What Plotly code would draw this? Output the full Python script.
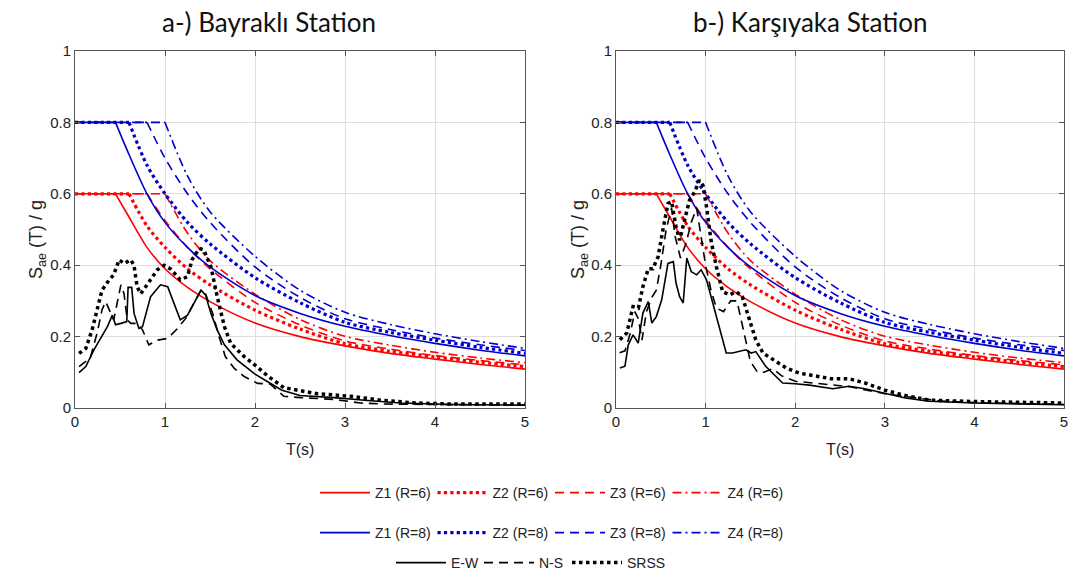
import plotly.graph_objects as go

# ---------------- data ----------------
# Design spectra (same in both panels)
z1_t = [0, 0.45, 0.6, 0.8, 1.0, 1.25, 1.5, 2.0, 2.5, 3.0, 3.5, 4.0, 4.5, 5.0]
z2_t = [0, 0.6, 0.8, 1.0, 1.25, 1.5, 2.0, 2.5, 3.0, 3.5, 4.0, 4.5, 5.0]
z3_t = [0, 0.8, 1.0, 1.25, 1.5, 2.0, 2.5, 3.0, 3.5, 4.0, 4.5, 5.0]
z4_t = [0, 1.0, 1.25, 1.5, 2.0, 2.5, 3.0, 3.5, 4.0, 4.5, 5.0]

z1_r6 = [0.6, 0.6, 0.535, 0.45, 0.39, 0.338, 0.298, 0.238, 0.2, 0.174, 0.153, 0.137, 0.122, 0.109]
z2_r6 = [0.6, 0.6, 0.51, 0.45, 0.39, 0.345, 0.274, 0.221, 0.18, 0.159, 0.143, 0.128, 0.116]
z3_r6 = [0.6, 0.6, 0.525, 0.45, 0.39, 0.296, 0.233, 0.188, 0.165, 0.147, 0.133, 0.121]
z4_r6 = [0.6, 0.6, 0.49, 0.413, 0.319, 0.248, 0.201, 0.176, 0.156, 0.14, 0.127]

z1_r8 = [0.8, 0.8, 0.71, 0.6, 0.52, 0.45, 0.395, 0.315, 0.265, 0.229, 0.203, 0.181, 0.162, 0.146]
z2_r8 = [0.8, 0.8, 0.68, 0.6, 0.52, 0.46, 0.365, 0.295, 0.24, 0.212, 0.19, 0.17, 0.153]
z3_r8 = [0.8, 0.8, 0.7, 0.6, 0.52, 0.395, 0.31, 0.25, 0.22, 0.196, 0.177, 0.161]
z4_r8 = [0.8, 0.8, 0.65, 0.55, 0.425, 0.33, 0.268, 0.234, 0.208, 0.186, 0.167]

# Bayrakli station records
bay_ew_t = [0.045, 0.12, 0.21, 0.30, 0.36, 0.415, 0.45, 0.51, 0.575, 0.59, 0.63, 0.656, 0.71,
            0.75, 0.84, 0.95, 1.03, 1.10, 1.17, 1.25, 1.34, 1.40, 1.45, 1.51, 1.58, 1.66, 1.80,
            2.0, 2.15, 2.3, 2.5, 2.88, 3.25, 3.62, 4.18, 5.0]
bay_ew_v = [0.099, 0.116, 0.163, 0.2, 0.228, 0.26, 0.233, 0.237, 0.242, 0.338, 0.338, 0.265, 0.223,
            0.228, 0.312, 0.345, 0.34, 0.293, 0.247, 0.26, 0.303, 0.33, 0.317, 0.265, 0.219, 0.177, 0.135,
            0.095, 0.072, 0.05, 0.035, 0.029, 0.021, 0.014, 0.01, 0.008]

bay_ns_t = [0.045, 0.17, 0.25, 0.30, 0.34, 0.38, 0.43, 0.51, 0.545, 0.58, 0.62, 0.69, 0.75, 0.82,
            0.915, 1.03, 1.14, 1.23, 1.32, 1.40, 1.45, 1.53, 1.60, 1.67, 1.77, 1.88, 2.03, 2.17,
            2.32, 2.51, 2.88, 3.17, 3.43, 3.8, 5.0]
bay_ns_v = [0.116, 0.14, 0.214, 0.275, 0.298, 0.275, 0.247, 0.345, 0.32, 0.247, 0.237, 0.237, 0.219, 0.177,
            0.19, 0.195, 0.223, 0.251, 0.293, 0.33, 0.32, 0.265, 0.2, 0.144, 0.111, 0.088, 0.069, 0.067,
            0.033, 0.029, 0.024, 0.014, 0.011, 0.01, 0.008]

bay_srss_t = [0.045, 0.12, 0.19, 0.25, 0.30, 0.38, 0.43, 0.49, 0.545, 0.62, 0.655, 0.69, 0.73, 0.80,
              0.915, 0.99, 1.06, 1.17, 1.25, 1.30, 1.38, 1.43, 1.51, 1.58, 1.66, 1.73, 1.88, 2.0,
              2.14, 2.32, 2.69, 3.06, 3.43, 3.8, 4.18, 5.0]
bay_srss_v = [0.153, 0.167, 0.219, 0.275, 0.33, 0.359, 0.373, 0.415, 0.405, 0.415, 0.4, 0.34, 0.32, 0.345,
              0.387, 0.4, 0.39, 0.359, 0.368, 0.415, 0.447, 0.443, 0.396, 0.312, 0.228, 0.181, 0.144, 0.12,
              0.09, 0.057, 0.04, 0.033, 0.021, 0.014, 0.011, 0.011]

# Karsiyaka station records
kar_ew_t = [0.044, 0.10, 0.137, 0.19, 0.248, 0.30, 0.36, 0.40, 0.45, 0.51, 0.58, 0.64, 0.67, 0.71,
            0.75, 0.79, 0.84, 0.90, 0.95, 1.01, 1.08, 1.16, 1.23, 1.30, 1.38, 1.45, 1.51, 1.56,
            1.67, 1.79, 1.86, 2.0, 2.16, 2.42, 2.6, 2.78, 3.0, 3.23, 3.49, 4.0, 5.0]
kar_ew_v = [0.112, 0.117, 0.177, 0.205, 0.182, 0.266, 0.298, 0.238, 0.256, 0.303, 0.405, 0.41, 0.35, 0.312,
            0.294, 0.42, 0.382, 0.373, 0.387, 0.359, 0.294, 0.219, 0.154, 0.154, 0.158, 0.163, 0.154, 0.158,
            0.117, 0.089, 0.07, 0.068, 0.064, 0.054, 0.061, 0.054, 0.041, 0.028, 0.019, 0.014, 0.009]

kar_ns_t = [0.04, 0.10, 0.16, 0.21, 0.25, 0.29, 0.34, 0.40, 0.45, 0.50, 0.56, 0.62, 0.66, 0.72, 0.78,
            0.84, 0.90, 0.95, 1.00, 1.06, 1.12, 1.20, 1.28, 1.35, 1.42, 1.50, 1.58, 1.65, 1.75, 1.85,
            2.0, 2.2, 2.4, 2.6, 2.8, 3.0, 3.3, 3.6, 4.0, 4.5, 5.0]
kar_ns_v = [0.155, 0.16, 0.21, 0.27, 0.25, 0.19, 0.27, 0.31, 0.33, 0.40, 0.50, 0.56, 0.48, 0.42, 0.46,
            0.52, 0.56, 0.48, 0.40, 0.33, 0.28, 0.27, 0.30, 0.30, 0.22, 0.13, 0.10, 0.10, 0.11, 0.09,
            0.075, 0.07, 0.065, 0.06, 0.05, 0.04, 0.03, 0.02, 0.015, 0.012, 0.01]

kar_srss_t = [0.044, 0.12, 0.19, 0.25, 0.30, 0.36, 0.41, 0.47, 0.53, 0.58, 0.62, 0.67, 0.71, 0.77,
              0.82, 0.88, 0.93, 0.97, 1.01, 1.06, 1.12, 1.19, 1.27, 1.34, 1.41, 1.49, 1.56, 1.64,
              1.75, 1.90, 2.04, 2.2, 2.4, 2.6, 2.78, 3.0, 3.23, 3.5, 4.0, 5.0]
kar_srss_v = [0.191, 0.21, 0.284, 0.28, 0.34, 0.39, 0.39, 0.424, 0.508, 0.573, 0.578, 0.508, 0.47, 0.53,
              0.582, 0.606, 0.638, 0.624, 0.564, 0.47, 0.396, 0.326, 0.317, 0.326, 0.312, 0.247, 0.191, 0.154,
              0.135, 0.112, 0.098, 0.09, 0.082, 0.082, 0.07, 0.05, 0.035, 0.022, 0.018, 0.014]

titles = ["a-) Bayraklı Station", "b-) Karşıyaka Station"]
x_ticks = [0, 1, 2, 3, 4, 5]
y_ticks = [0, 0.2, 0.4, 0.6, 0.8, 1.0]
y_ticklabels = ["0", "0.2", "0.4", "0.6", "0.8", "1"]

# ---------------- styling ----------------
W, H = 1076, 575
RED, BLUE, BLACK = "#ff0000", "#0000cc", "#000000"
design = [
    ("Z1 (R=6)", z1_t, z1_r6, RED, "solid", 1.6, "legend"),
    ("Z2 (R=6)", z2_t, z2_r6, RED, "dot", 3.2, "legend"),
    ("Z3 (R=6)", z3_t, z3_r6, RED, "9px,6px", 1.6, "legend"),
    ("Z4 (R=6)", z4_t, z4_r6, RED, "9px,4px,2px,4px", 1.6, "legend"),
    ("Z1 (R=8)", z1_t, z1_r8, BLUE, "solid", 1.6, "legend2"),
    ("Z2 (R=8)", z2_t, z2_r8, BLUE, "dot", 3.2, "legend2"),
    ("Z3 (R=8)", z3_t, z3_r8, BLUE, "9px,6px", 1.6, "legend2"),
    ("Z4 (R=8)", z4_t, z4_r8, BLUE, "9px,4px,2px,4px", 1.6, "legend2"),
]
records = [
    [("E-W", bay_ew_t, bay_ew_v, "solid", 1.6), ("N-S", bay_ns_t, bay_ns_v, "9px,6px", 1.6),
     ("SRSS", bay_srss_t, bay_srss_v, "dot", 3.5)],
    [("E-W", kar_ew_t, kar_ew_v, "solid", 1.6), ("N-S", kar_ns_t, kar_ns_v, "9px,6px", 1.6),
     ("SRSS", kar_srss_t, kar_srss_v, "dot", 3.5)],
]

fig = go.Figure()

axes = [("x", "y"), ("x2", "y2")]
for p, (xa, ya) in enumerate(axes):
    first = p == 0
    for name, tt, vv, col, dash, lw, lg in design:
        fig.add_trace(go.Scatter(x=tt[:2], y=vv[:2], mode="lines", xaxis=xa, yaxis=ya,
                                 line=dict(color=col, dash=dash, width=lw),
                                 showlegend=False, hoverinfo="skip"))
        fig.add_trace(go.Scatter(x=tt[1:], y=vv[1:], mode="lines", xaxis=xa, yaxis=ya, name=name,
                                 line=dict(color=col, dash=dash, width=lw, shape="spline", smoothing=0.8),
                                 showlegend=first, legend=lg))
    for name, tt, vv, dash, lw in records[p]:
        fig.add_trace(go.Scatter(x=tt, y=vv, mode="lines", xaxis=xa, yaxis=ya, name=name,
                                 line=dict(color=BLACK, dash=dash, width=lw),
                                 showlegend=first, legend="legend3"))

# empty spacer entry so the last legend label of row 3 is not clipped
fig.add_trace(go.Scatter(x=[None], y=[None], mode="lines", name=" ", hoverinfo="skip",
                         line=dict(color="rgba(0,0,0,0)", width=0), showlegend=True, legend="legend3"))

top_px, bot_px = 51, 408
dom_y = [1 - bot_px / H, 1 - top_px / H]
doms_x = [[75 / W, 525 / W], [616 / W, 1064 / W]]

axis_common = dict(showline=True, linecolor="#555555", linewidth=1, mirror="ticks",
                   ticks="inside", ticklen=5, tickcolor="#555555",
                   showgrid=True, gridcolor="#dedede", gridwidth=1, zeroline=False,
                   tickfont=dict(family="Liberation Sans, Arial", size=15, color="#222222"))

layout = dict(
    width=W, height=H, margin=dict(l=0, r=0, t=0, b=0, autoexpand=False),
    plot_bgcolor="white", paper_bgcolor="white",
    font=dict(family="Liberation Sans, Arial", size=14, color="#222222"),
)
for i, (xa, ya) in enumerate(axes):
    xk = "xaxis" if i == 0 else "xaxis2"
    yk = "yaxis" if i == 0 else "yaxis2"
    layout[xk] = dict(axis_common, domain=doms_x[i], range=[0, 5], tickvals=x_ticks, anchor=ya)
    layout[yk] = dict(axis_common, domain=dom_y, range=[0, 1], tickvals=y_ticks,
                      ticktext=y_ticklabels, anchor=xa)

leg_common = dict(orientation="h", xanchor="left", yanchor="middle", bgcolor="rgba(0,0,0,0)",
                  font=dict(family="Liberation Sans, Arial", size=14, color="#222222"),
                  itemwidth=50, tracegroupgap=0, itemclick=False)
layout["legend"] = dict(leg_common, x=315 / W, y=1 - 493 / H, entrywidth=52.5)
layout["legend2"] = dict(leg_common, x=315 / W, y=1 - 533 / H, entrywidth=52.5)
layout["legend3"] = dict(leg_common, x=391 / W, y=1 - 563 / H, entrywidth=23)

fig.update_layout(**layout)

centers_px = [300, 840]
title_px = [269, 810]
ylab_px = [37, 579]
for i in range(2):
    fig.add_annotation(text=titles[i], x=title_px[i] / W, y=1 - 22 / H, xref="paper", yref="paper",
                       showarrow=False, xanchor="center", yanchor="middle",
                       font=dict(family="Lato, Noto Sans", size=26, color="#111111"))
    fig.add_annotation(text="T(s)", x=centers_px[i] / W, y=1 - 449 / H, xref="paper", yref="paper",
                       showarrow=False, xanchor="center", yanchor="middle",
                       font=dict(family="Liberation Sans, Arial", size=16, color="#222222"))
    fig.add_annotation(text="S<sub>ae</sub> (T) / g", x=ylab_px[i] / W, y=1 - 240 / H,
                       xref="paper", yref="paper", showarrow=False, textangle=-90,
                       xanchor="center", yanchor="middle",
                       font=dict(family="Liberation Sans, Arial", size=18, color="#222222"))

fig.write_html("out.html")
